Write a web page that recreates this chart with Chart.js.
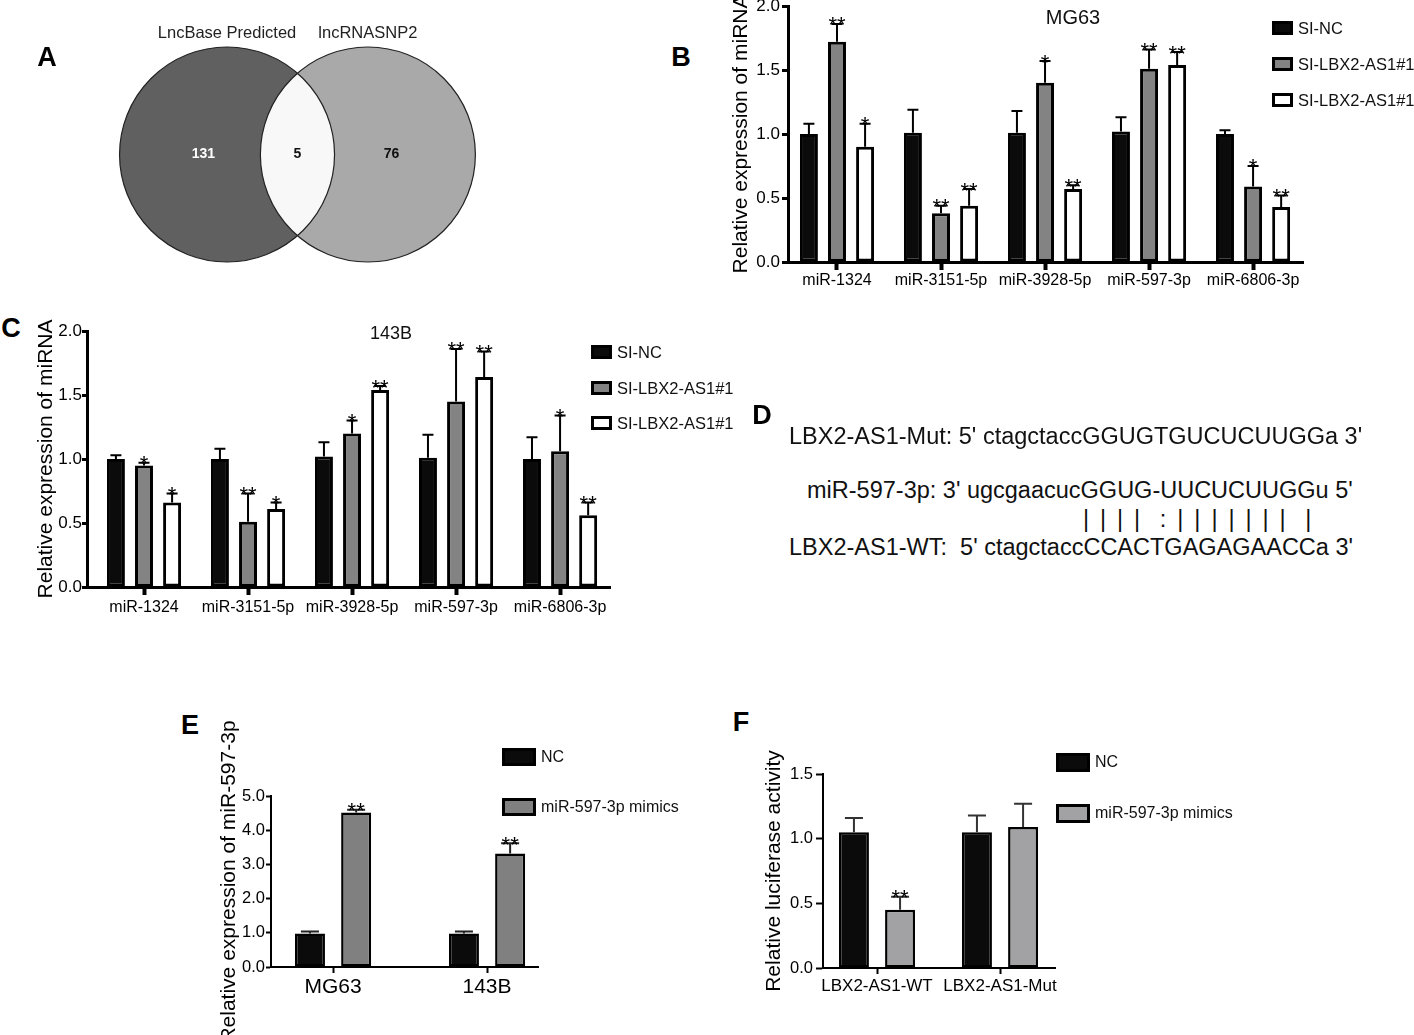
<!DOCTYPE html>
<html>
<head>
<meta charset="utf-8">
<script src="https://cdn.jsdelivr.net/npm/chart.js@4.4.0/dist/chart.umd.min.js"></script>
<style>
body{margin:0;width:1414px;height:1035px;position:relative;overflow:hidden;background:#fff;font-family:"Liberation Sans",Arial,Helvetica,sans-serif;}
canvas{position:absolute;}
.t{position:absolute;white-space:pre;line-height:1;color:#111;}
.box{position:absolute;box-sizing:border-box;}
</style>
</head>
<body>
<script>
// ---- data ----
const vennSets = ['LncBase Predicted', 'lncRNASNP2'];
const vennCounts = [131, 5, 76];   // only left, both, only right

const mirLabels = ['miR-1324', 'miR-3151-5p', 'miR-3928-5p', 'miR-597-3p', 'miR-6806-3p'];
const siNames = ['SI-NC', 'SI-LBX2-AS1#1', 'SI-LBX2-AS1#1'];

// B: MG63
const mg63NC     = [1.00, 1.01, 1.01, 1.02, 1.00];
const mg63Si1    = [1.72, 0.38, 1.40, 1.51, 0.59];
const mg63Si2    = [0.90, 0.44, 0.57, 1.54, 0.43];
const mg63NCErr  = [1.08, 1.19, 1.18, 1.13, 1.03];
const mg63Si1Err = [1.86, 0.44, 1.57, 1.66, 0.75];
const mg63Si2Err = [1.08, 0.57, 0.60, 1.64, 0.52];
const mg63Si1Sig = ['**', '**', '*', '**', '*'];
const mg63Si2Sig = ['*', '**', '**', '**', '**'];

// C: 143B
const b143NC     = [1.00, 1.00, 1.02, 1.01, 1.00];
const b143Si1    = [0.95, 0.51, 1.20, 1.45, 1.06];
const b143Si2    = [0.66, 0.61, 1.54, 1.64, 0.56];
const b143NCErr  = [1.03, 1.08, 1.13, 1.19, 1.17];
const b143Si1Err = [0.97, 0.73, 1.30, 1.86, 1.34];
const b143Si2Err = [0.73, 0.66, 1.57, 1.84, 0.66];
const b143Si1Sig = ['*', '**', '*', '**', '*'];
const b143Si2Sig = ['*', '*', '**', '**', '**'];

// E
const cellLines = ['MG63', '143B'];
const mimicNames = ['NC', 'miR-597-3p mimics'];
const eNC        = [0.98, 0.98];
const eMimic     = [4.52, 3.32];
const eNCErr     = [1.04, 1.04];
const eMimicErr  = [4.60, 3.62];
const eMimicSig  = ['**', '**'];

// F
const reporters  = ['LBX2-AS1-WT', 'LBX2-AS1-Mut'];
const fNC        = [1.05, 1.05];
const fMimic     = [0.45, 1.09];
const fNCErr     = [1.16, 1.18];
const fMimicErr  = [0.55, 1.27];
const fMimicSig  = ['**', ''];

const FONT = '"Liberation Sans", Arial, Helvetica, sans-serif';
Chart.defaults.font.family = FONT;
Chart.defaults.color = '#000';

// error bars (mean + SD, upward only) and significance stars
const errorBars = {
  id: 'errorBars',
  afterDatasetsDraw(chart, args, o) {
    const ctx = chart.ctx, ys = chart.scales.y;
    ctx.save();
    chart.data.datasets.forEach((ds, i) => {
      chart.getDatasetMeta(i).data.forEach((bar, j) => {
        const top = ys.getPixelForValue(o.err[i][j]);
        ctx.strokeStyle = o.color;
        ctx.lineWidth = o.width;
        ctx.beginPath();
        ctx.moveTo(bar.x, bar.y);
        ctx.lineTo(bar.x, top);
        ctx.moveTo(bar.x - o.cap / 2, top);
        ctx.lineTo(bar.x + o.cap / 2, top);
        ctx.stroke();
        const s = o.sig[i][j];
        if (s) {
          ctx.fillStyle = '#000';
          ctx.font = o.star + 'px ' + FONT;
          ctx.textAlign = 'center';
          ctx.textBaseline = 'alphabetic';
          ctx.fillText(s, bar.x, top + o.star * 0.43 - 1);
        }
      });
    });
    ctx.restore();
  }
};

function text(str, x, y, style, align) {
  const d = document.createElement('div');
  d.className = 't';
  d.textContent = str;
  d.style.left = x + 'px';
  d.style.top = y + 'px';
  d.style.transform = align === 'center' ? 'translate(-50%,-50%)' : 'translate(0,-50%)';
  Object.assign(d.style, style || {});
  document.body.appendChild(d);
}

function legend(x, y0, gap, names, fills, bw, bh, border, size) {
  names.forEach((n, i) => {
    const b = document.createElement('div');
    b.className = 'box';
    b.style.left = x + 'px';
    b.style.top = (y0 + i * gap - bh / 2) + 'px';
    b.style.width = bw + 'px';
    b.style.height = bh + 'px';
    b.style.background = fills[i];
    b.style.border = border + 'px solid #000';
    document.body.appendChild(b);
    text(n, x + bw + 5, y0 + i * gap, {fontSize: size + 'px'});
  });
}

function barPanel(p) {
  const PT = p.pt, PR = 60;
  const left = Math.round(p.titleX - p.titleSize * 0.6);
  const top = p.area.T - PT;
  const w = p.area.R + PR - left;
  const h = p.area.B + p.xH + p.pb - top;
  const yW = p.area.L - left;
  const cv = document.createElement('canvas');
  cv.width = w; cv.height = h;
  cv.style.left = left + 'px';
  cv.style.top = top + 'px';
  document.body.appendChild(cv);
  return new Chart(cv, {
    type: 'bar',
    data: {
      datasets: p.series.map((vals, i) => ({
        label: p.names[i],
        data: vals.map((v, j) => ({x: j, y: v})),
        backgroundColor: p.fills[i],
        borderColor: '#000',
        borderWidth: p.barBorder,
        borderSkipped: false
      }))
    },
    options: {
      responsive: false,
      animation: false,
      layout: {padding: {left: 0, top: PT, right: PR, bottom: p.pb}},
      datasets: {bar: {categoryPercentage: p.cp, barPercentage: p.bp}},
      plugins: {
        legend: {display: false},
        tooltip: {enabled: false},
        errorBars: {err: p.err, sig: p.sig, color: p.errColor, width: p.errWidth, cap: p.cap, star: p.star}
      },
      scales: {
        x: {
          type: 'linear', min: p.xMin, max: p.xMax, offset: false, bounds: 'data',
          afterBuildTicks: s => { s.ticks = p.cats.map((c, i) => ({value: i})); },
          afterFit: s => { s.height = p.xH; },
          grid: {drawOnChartArea: false, drawTicks: true, offset: false,
                 tickLength: p.xTick, tickWidth: p.xTickW, tickColor: '#000'},
          border: {display: true, color: '#000', width: p.axisW, z: 1},
          ticks: {callback: v => p.cats[v], autoSkip: false, maxRotation: 0, minRotation: 0,
                  padding: p.xPad, color: '#000', font: {size: p.xFont}}
        },
        y: {
          min: 0, max: p.yMax,
          afterFit: s => { s.width = yW; },
          grid: {drawOnChartArea: false, drawTicks: true,
                 tickLength: p.yTick, tickWidth: p.yTickW, tickColor: '#000'},
          border: {display: true, color: '#000', width: p.axisW},
          ticks: {stepSize: p.yStep, callback: v => v.toFixed(1), padding: p.yPad,
                  color: '#000', font: {size: p.yFont}},
          title: {display: true, text: p.yTitle, color: '#000', padding: 0,
                  font: {size: p.titleSize}}
        }
      }
    },
    plugins: [errorBars]
  });
}

// ---- A: Venn ----
const vennDraw = {
  id: 'vennDraw',
  afterDatasetsDraw(chart, args, o) {
    const ctx = chart.ctx, xs = chart.scales.x, ys = chart.scales.y;
    const r = xs.getPixelForValue(o.radius) - xs.getPixelForValue(0);
    const cy = ys.getPixelForValue(0);
    const c = o.centers.map(v => xs.getPixelForValue(v));
    const path = cx => { ctx.beginPath(); ctx.arc(cx, cy, r, 0, Math.PI * 2); };
    ctx.save();
    path(c[0]); ctx.fillStyle = o.fills[0]; ctx.fill();
    path(c[1]); ctx.fillStyle = o.fills[1]; ctx.fill();
    ctx.save(); path(c[0]); ctx.clip(); path(c[1]); ctx.fillStyle = o.fills[2]; ctx.fill(); ctx.restore();
    ctx.strokeStyle = '#222'; ctx.lineWidth = 1.2;
    path(c[0]); ctx.stroke();
    path(c[1]); ctx.stroke();
    ctx.textAlign = 'center'; ctx.textBaseline = 'middle';
    ctx.font = 'bold 14px ' + FONT;
    const pos = [c[0] - 0.22 * r, (c[0] + r + c[1] - r) / 2, c[1] + 0.22 * r];
    vennCounts.forEach((n, i) => {
      ctx.fillStyle = i === 0 ? '#fff' : '#111';
      ctx.fillText(String(n), pos[i], cy);
    });
    ctx.font = '16.5px ' + FONT;
    ctx.fillStyle = '#222';
    vennSets.forEach((s, i) => ctx.fillText(s, c[i], cy - r - 14));
    ctx.restore();
  }
};
(function () {
  const cv = document.createElement('canvas');
  cv.width = 480; cv.height = 300;
  cv.style.left = '0px'; cv.style.top = '0px';
  document.body.appendChild(cv);
  new Chart(cv, {
    type: 'scatter',
    data: {datasets: [{data: []}]},
    options: {
      responsive: false, animation: false,
      layout: {padding: 0},
      plugins: {legend: {display: false}, tooltip: {enabled: false},
        vennDraw: {radius: 1, centers: [0, 1.31], fills: ['#606060', '#a9a9a9', '#f8f8f8']}},
      scales: {
        x: {type: 'linear', min: -2.112, max: 2.353, display: false},
        y: {type: 'linear', min: -1.353, max: 1.437, display: false}
      }
    },
    plugins: [vennDraw]
  });
})();

// ---- B ----
barPanel({
  area: {L: 788, T: 6, R: 1303, B: 262}, titleX: 742, titleSize: 21, xH: 40, pb: 4, pt: 20,
  cats: mirLabels, names: siNames, series: [mg63NC, mg63Si1, mg63Si2],
  err: [mg63NCErr, mg63Si1Err, mg63Si2Err], sig: [[], mg63Si1Sig, mg63Si2Sig],
  fills: ['#0b0b0b', '#838383', '#ffffff'], barBorder: 3,
  xMin: -0.471, xMax: 4.48, cp: 0.81, bp: 0.64,
  xTick: 8, xTickW: 4, xPad: 1, xFont: 16,
  yMax: 2, yStep: 0.5, yTick: 6, yTickW: 3, yPad: 2, yFont: 17,
  axisW: 3, yTitle: 'Relative expression of miRNA',
  errColor: '#000', errWidth: 2, cap: 11, star: 22
});
text('MG63', 1073, 17, {fontSize: '20px'}, 'center');
legend(1272, 28, 36, siNames, ['#0b0b0b', '#838383', '#ffffff'], 21, 14, 3, 16.5);

// ---- C ----
barPanel({
  area: {L: 87, T: 331, R: 610, B: 587}, titleX: 47, titleSize: 21, xH: 40, pb: 4, pt: 20,
  cats: mirLabels, names: siNames, series: [b143NC, b143Si1, b143Si2],
  err: [b143NCErr, b143Si1Err, b143Si2Err], sig: [[], b143Si1Sig, b143Si2Sig],
  fills: ['#0b0b0b', '#838383', '#ffffff'], barBorder: 3,
  xMin: -0.548, xMax: 4.48, cp: 0.81, bp: 0.64,
  xTick: 8, xTickW: 4, xPad: 3, xFont: 16,
  yMax: 2, yStep: 0.5, yTick: 5, yTickW: 3, yPad: 0, yFont: 17,
  axisW: 3, yTitle: 'Relative expression of miRNA',
  errColor: '#000', errWidth: 2, cap: 11, star: 22
});
text('143B', 391, 333, {fontSize: '18px'}, 'center');
legend(591, 352, 35.5, siNames, ['#0b0b0b', '#838383', '#ffffff'], 21, 14, 3, 16.5);

// ---- E ----
barPanel({
  area: {L: 271, T: 796, R: 538, B: 967}, titleX: 230, titleSize: 21, xH: 40, pb: 40, pt: 95,
  cats: cellLines, names: mimicNames, series: [eNC, eMimic],
  err: [eNCErr, eMimicErr], sig: [[], eMimicSig],
  fills: ['#0b0b0b', '#808080'], barBorder: 2.5,
  xMin: -0.403, xMax: 1.331, cp: 0.6, bp: 0.65,
  xTick: 6, xTickW: 2, xPad: 2, xFont: 21,
  yMax: 5, yStep: 1, yTick: 5, yTickW: 2, yPad: 1, yFont: 16.5,
  axisW: 2, yTitle: 'Relative expression of miR-597-3p',
  errColor: '#222', errWidth: 2, cap: 18, star: 22
});
legend(502, 757, 50, mimicNames, ['#0b0b0b', '#808080'], 34, 18, 3, 16);

// ---- F ----
barPanel({
  area: {L: 823, T: 774, R: 1055, B: 968}, titleX: 775, titleSize: 21, xH: 40, pb: 6, pt: 40,
  cats: reporters, names: mimicNames, series: [fNC, fMimic],
  err: [fNCErr, fMimicErr], sig: [[], fMimicSig],
  fills: ['#0b0b0b', '#a2a2a5'], barBorder: 2.5,
  xMin: -0.439, xMax: 1.447, cp: 0.75, bp: 0.65,
  xTick: 6, xTickW: 2, xPad: 2, xFont: 17,
  yMax: 1.5, yStep: 0.5, yTick: 7, yTickW: 2, yPad: 3, yFont: 16.5,
  axisW: 2, yTitle: 'Relative luciferase activity',
  errColor: '#333', errWidth: 2, cap: 18, star: 22
});
legend(1056, 762, 51, mimicNames, ['#0b0b0b', '#a2a2a5'], 34, 19, 3, 16);

// ---- D: sequences ----
const dStyle = {fontSize: '23.5px', color: '#111'};
text("LBX2-AS1-Mut: 5' ctagctaccGGUGTGUCUCUUGGa 3'", 789, 437, dStyle);
text("miR-597-3p: 3' ugcgaacucGGUG-UUCUCUUGGu 5'", 807, 491, dStyle);
text("| | | |  : | | | | | | |  |", 1083, 520, {fontSize: '23.5px', color: '#111', letterSpacing: '2.2px'});
text("LBX2-AS1-WT:  5' ctagctaccCCACTGAGAGAACCa 3'", 789, 548, dStyle);

// ---- panel letters ----
const letter = {fontSize: '27px', fontWeight: 'bold', color: '#000'};
text('A', 47, 57, letter, 'center');
text('B', 681, 57, letter, 'center');
text('C', 11, 328, letter, 'center');
text('D', 762, 415, letter, 'center');
text('E', 190, 725, letter, 'center');
text('F', 741, 722, letter, 'center');
</script>
</body>
</html>
